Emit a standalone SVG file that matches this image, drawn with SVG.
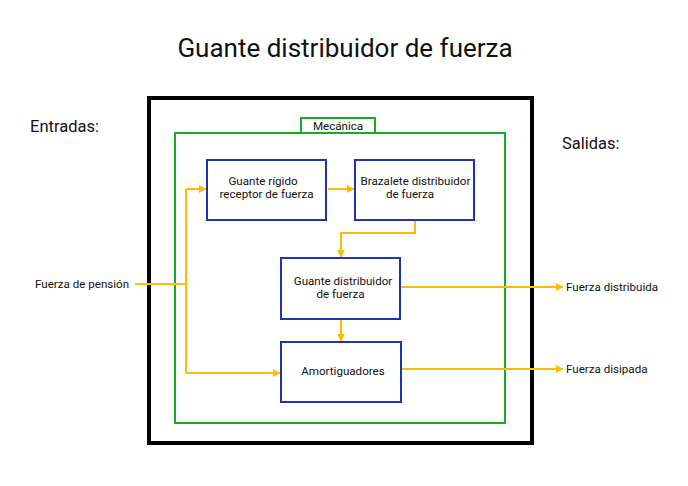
<svg xmlns="http://www.w3.org/2000/svg" width="688" height="486" viewBox="0 0 688 486">
<style>
text{font-family:Roboto,"Liberation Sans",sans-serif;fill:#111}
.b{fill:#fff;stroke:#1f35b0;stroke-width:2}
.c{fill:none;stroke:#fbbc04;stroke-width:2}
.s{font-size:11.6px}
</style>
<defs>
<marker id="a" viewBox="0 0 10 10" refX="9" refY="5" markerWidth="4" markerHeight="4" orient="auto" markerUnits="strokeWidth">
<path d="M0,0L10,5L0,10z" fill="#fbbc04"/>
</marker>
</defs>
<rect width="688" height="486" fill="#fff"/>
<text x="345" y="57" font-size="26" text-anchor="middle">Guante distribuidor de fuerza</text>
<text x="30" y="132" font-size="16.5">Entradas:</text>
<text x="562" y="149" font-size="16.5">Salidas:</text>
<g id="sistema"><rect x="149" y="98" width="383" height="345" fill="none" stroke="#000" stroke-width="4"/></g>
<g id="mecanica">
<rect x="175" y="133" width="330" height="290" fill="none" stroke="#1aaa2a" stroke-width="2"/>
<rect x="301" y="118" width="74" height="15" fill="#fff" stroke="#1aaa2a" stroke-width="2"/>
<text x="338" y="130" class="s" text-anchor="middle">Mecánica</text>
</g>
<g id="connectors">
<path class="c" d="M135,284H186"/>
<path class="c" d="M186,189V373"/>
<path class="c" d="M186,189H206" marker-end="url(#a)"/>
<path class="c" d="M186,373H280" marker-end="url(#a)"/>
<path class="c" d="M328,189H354" marker-end="url(#a)"/>
<path class="c" d="M415,220V233H341V257" marker-end="url(#a)"/>
<path class="c" d="M341,320V341" marker-end="url(#a)"/>
<path class="c" d="M401,287H563" marker-end="url(#a)"/>
<path class="c" d="M402,369H563" marker-end="url(#a)"/>
</g>
<g id="n1"><rect class="b" x="207" y="160" width="119" height="60"/>
<text class="s" text-anchor="middle"><tspan x="263" y="185">Guante rígido</tspan><tspan x="266.5" y="198">receptor de fuerza</tspan></text></g>
<g id="n2"><rect class="b" x="355" y="160" width="119" height="60"/>
<text class="s" text-anchor="middle"><tspan x="415.5" y="185">Brazalete distribuidor</tspan><tspan x="410" y="198">de fuerza</tspan></text></g>
<g id="n3"><rect class="b" x="281" y="258" width="119" height="61"/>
<text class="s" text-anchor="middle"><tspan x="343" y="285">Guante distribuidor</tspan><tspan x="340.5" y="298">de fuerza</tspan></text></g>
<g id="n4"><rect class="b" x="281" y="342" width="120" height="60"/>
<text class="s" x="343" y="375" text-anchor="middle">Amortiguadores</text></g>
<text class="s" x="35" y="288">Fuerza de pensión</text>
<text class="s" x="566" y="291">Fuerza distribuida</text>
<text class="s" x="566" y="373">Fuerza disipada</text>
</svg>
